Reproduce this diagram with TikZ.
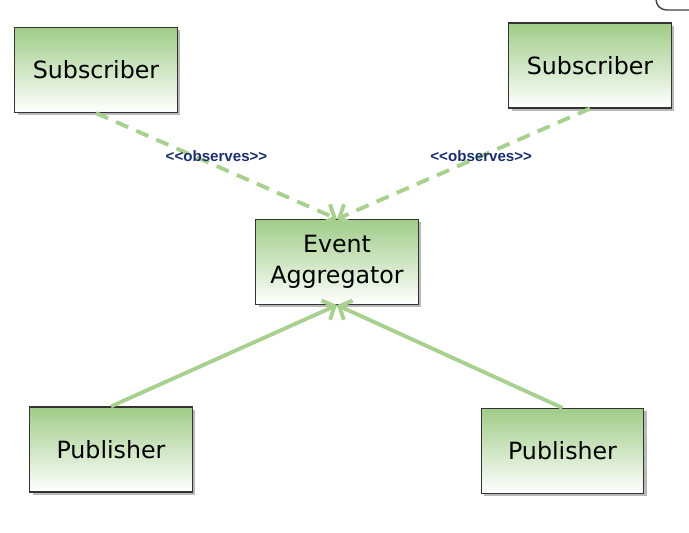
\documentclass[tikz,border=0pt]{standalone}
\usepackage{fontspec}
\setmainfont{DejaVu Sans}
\newfontfamily\stereofont{Liberation Sans}
\usetikzlibrary{arrows.meta,shadows}
\definecolor{boxgreen}{RGB}{160,204,136}
\definecolor{linegreen}{RGB}{168,208,142}
\definecolor{stereoblue}{RGB}{28,46,110}
\begin{document}
\begin{tikzpicture}[x=0.02cm,y=-0.02cm,
  cls/.style={draw=black!80,line width=0.7pt,top color=boxgreen,middle color=boxgreen!50,bottom color=white,
    minimum width=3.25cm,minimum height=1.7cm,inner sep=0pt,align=center,
    font=\fontsize{13.5}{17.6}\selectfont,
    drop shadow={shadow xshift=1.7pt,shadow yshift=-1.7pt,opacity=0.55}},
  obs/.style={linegreen,line width=2.2pt,dash pattern=on 7.5pt off 5pt,-{Straight Barb[length=5.5pt,width=12pt]}},
  pub/.style={linegreen,line width=2.2pt,-{Straight Barb[length=5.5pt,width=12pt]}},
  stereo/.style={text=stereoblue,inner sep=1pt,font=\stereofont\bfseries\fontsize{8.6}{10}\selectfont}]
\useasboundingbox (0,0) rectangle (689,533);
\draw[black!75,line width=0.8pt,rounded corners=6pt] (656,-20) -- (656,10) -- (720,10);
\node[cls] (sub1) at (96,70) {Subscriber};
\node[cls] (sub2) at (590,65.5) {Subscriber};
\node[cls] (agg) at (337,262) {Event\\Aggregator};
\node[cls] (pub1) at (111,449.5) {Publisher};
\node[cls] (pub2) at (562.5,451) {Publisher};
\draw[obs] (sub1.south) -- (agg.north) node[stereo,pos=0.5,yshift=0.2cm] (obs1) {<<observes>>};
\draw[obs] (sub2.south) -- (agg.north) node[stereo,pos=0.43] (obs2) {<<observes>>};
\draw[pub] (pub1.north) -- (agg.south);
\draw[pub] (pub2.north) -- (agg.south);
\end{tikzpicture}
\end{document}
